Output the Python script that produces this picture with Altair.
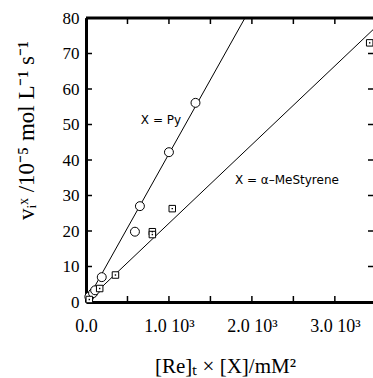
import altair as alt
import pandas as pd

# ---- data ----
py_x = [40, 85, 110, 190, 590, 650, 1000, 1320]
py_y = [1.5, 2.5, 3.3, 7.0, 19.8, 27.0, 42.2, 56.1]
ms_x = [40, 165, 355, 800, 800, 1040, 3420]
ms_y = [0.7, 3.8, 7.6, 19.8, 19.0, 26.3, 73.0]
py_fit_x = [0, 1916]
py_fit_y = [0, 80]
ms_fit_x = [0, 3460]
ms_fit_y = [0, 76.7]
x_tick_values = [0, 500, 1000, 1500, 2000, 2500, 3000]
x_label_values = [0, 1000, 2000, 3000]
x_label_texts = ["0.0", "1.0 10³", "2.0 10³", "3.0 10³"]
y_tick_values = [10, 20, 30, 40, 50, 60, 70]
ann_text = ["X = Py", "X = α–MeStyrene"]
ann_x = [904, 2422]
ann_y = [51.3, 34.4]

W, H = 287, 284
SERIF = "Liberation Serif"

xs = alt.Scale(domain=[0, 3460], nice=False, zero=False)
ys = alt.Scale(domain=[0, 80], nice=False, zero=False)

label_expr = " : ".join(
    f"datum.value == {v} ? '{t}'" for v, t in zip(x_label_values, x_label_texts)
) + " : ''"

py_df = pd.DataFrame({"x": py_x, "y": py_y})
ms_df = pd.DataFrame({"x": ms_x, "y": ms_y})
pyfit_df = pd.DataFrame({"x": py_fit_x, "y": py_fit_y})
msfit_df = pd.DataFrame({"x": ms_fit_x, "y": ms_fit_y})
xt_df = pd.DataFrame({"x": x_tick_values})
yt_df = pd.DataFrame({"y": y_tick_values})
ann_df = pd.DataFrame({"t": ann_text, "x": ann_x, "y": ann_y})

x_axis = alt.Axis(
    values=x_label_values, labelExpr=label_expr, grid=False, ticks=False, tickSize=0,
    domain=True, domainColor="black", domainWidth=3,
    labelFont=SERIF, labelFontSize=18, labelColor="black", labelPadding=15,
    labelBaseline="top", labelAlign="center",
    title="[Re]ₜ × [X]/mM²", titleFont=SERIF, titleFontSize=21, titleFontWeight="normal",
    titleColor="black", titleX=139, titleY=70, titleBaseline="alphabetic", titleAlign="center",
)
y_axis = alt.Axis(
    values=[0, 10, 20, 30, 40, 50, 60, 70, 80], grid=False, ticks=False, tickSize=0,
    domain=True, domainColor="black", domainWidth=3,
    labelFont=SERIF, labelFontSize=17, labelColor="black", labelPadding=7,
    title="vᵢˣ /10⁻⁵ mol L⁻¹ s⁻¹", titleFont=SERIF, titleFontSize=23, titleFontWeight="normal",
    titleColor="black", titleAngle=270, titleX=-53, titleY=112,
    titleBaseline="alphabetic", titleAlign="center",
)

X = alt.X("x:Q", scale=xs, axis=x_axis)
Y = alt.Y("y:Q", scale=ys, axis=y_axis)

fit_py = alt.Chart(pyfit_df).mark_line(color="black", strokeWidth=1).encode(x=X, y=Y)
fit_ms = alt.Chart(msfit_df).mark_line(color="black", strokeWidth=1).encode(x=X, y=Y)
pts_py = alt.Chart(py_df).mark_point(
    shape="circle", filled=False, fill="white", fillOpacity=1, stroke="black",
    strokeWidth=1, size=80, opacity=1
).encode(x=X, y=Y)
pts_ms = alt.Chart(ms_df).mark_point(
    shape="square", filled=False, fill="white", fillOpacity=1, stroke="black",
    strokeWidth=1, size=42, opacity=1
).encode(x=X, y=Y)
dots_ms = alt.Chart(ms_df).mark_point(
    shape="square", filled=True, color="black", size=2, opacity=1
).encode(x=X, y=Y)

ann = alt.Chart(ann_df).mark_text(
    font="DejaVu Sans", fontSize=12, color="black", align="center", baseline="middle"
).encode(x=X, y=Y, text="t:N")

bot_ticks = alt.Chart(xt_df).mark_rule(color="black", strokeWidth=1.5).encode(
    x=X, y=alt.value(H), y2=alt.value(H - 6)
)
top_ticks = alt.Chart(xt_df).mark_rule(color="black", strokeWidth=1.5).encode(
    x=X, y=alt.value(0), y2=alt.value(6)
)
left_ticks = alt.Chart(yt_df).mark_rule(color="black", strokeWidth=1.5).encode(
    y=Y, x=alt.value(0), x2=alt.value(6)
)
right_ticks = alt.Chart(yt_df).mark_rule(color="black", strokeWidth=1.5).encode(
    y=Y, x=alt.value(W), x2=alt.value(W - 5)
)
top_border = alt.Chart(xt_df.head(1)).mark_rule(color="black", strokeWidth=3).encode(
    x=alt.value(0), x2=alt.value(W), y=alt.value(0)
)

chart = alt.layer(
    fit_py, fit_ms, bot_ticks, top_ticks, left_ticks, right_ticks, top_border,
    pts_py, pts_ms, dots_ms, ann
).properties(
    width=W, height=H,
    autosize=alt.AutoSizeParams(type="none"),
    padding={"left": 86, "top": 18, "right": 0, "bottom": 76},
    background="white",
).configure_view(stroke=None)

chart.save("out.html", embed_options={"renderer": "svg", "actions": False})
